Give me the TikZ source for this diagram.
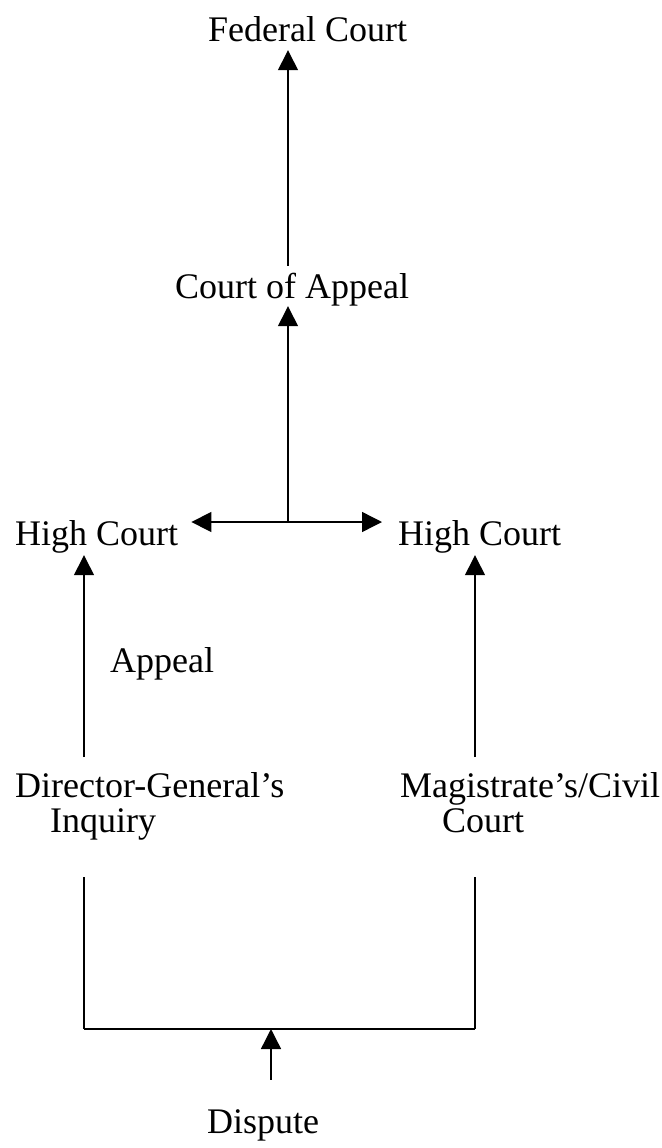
\documentclass[tikz,border=0pt]{standalone}
\usepackage{fontspec}
\setmainfont{Liberation Serif}
\usetikzlibrary{arrows.meta}
\begin{document}
\begin{tikzpicture}[x=1pt,y=-1pt,
  txt/.style={inner sep=0pt,font=\fontsize{36}{35}\selectfont},
  lbl/.style={txt,anchor=base west,text height=26pt,text depth=8pt},
  twoline/.style={txt,anchor=north west,align=left},
  conn/.style={line width=1.4pt,draw=black},
  arr/.style={conn,-{Triangle[length=20pt,width=20pt]}},
  darr/.style={conn,{Triangle[length=20pt,width=20pt]}-{Triangle[length=20pt,width=20pt]}}]
\useasboundingbox (0,0) rectangle (661,1148);
% nodes
\node[lbl] (fed)   at (208,42)   {Federal Court};
\node[lbl] (coa)   at (175,298)  {Court of Appeal};
\node[lbl] (hcl)   at (15,545)   {High Court};
\node[lbl] (hcr)   at (398,545)  {High Court};
\node[lbl] (appeal) at (110,672) {Appeal};
\node[twoline] (dg) at (15,771)  {\rule{0pt}{26pt}Director-General's\\\hspace*{35pt}Inquiry\rule[-8pt]{0pt}{8pt}};
\node[twoline] (mc) at (400,771) {\rule{0pt}{26pt}Magistrate's/Civil\\\hspace*{42pt}Court\rule[-8pt]{0pt}{8pt}};
\node[lbl] (disp)  at (207,1133) {Dispute};
% helper coordinates
\coordinate (xl) at (84,0);
\coordinate (xr) at (475,0);
\coordinate (j)  at (288,522);
\coordinate (jb) at (271,1029);
% connectors
\draw[arr,shorten <=6pt] (coa.north -| j) -- (fed.south -| j);
\draw[arr] (j) -- (coa.south -| j);
\draw[darr,shorten <=13pt,shorten >=16pt] (hcl.east |- j) -- (hcr.west |- j);
\draw[arr,shorten <=14pt,shorten >=2pt] (dg.north -| xl) -- (hcl.south -| xl);
\draw[arr,shorten <=14pt,shorten >=2pt] (mc.north -| xr) -- (hcr.south -| xr);
\draw[conn] (xl |- jb) -- (xr |- jb);
\draw[conn] ([yshift=-37pt]dg.south -| xl) -- (xl |- jb);
\draw[conn] ([yshift=-37pt]mc.south -| xr) -- (xr |- jb);
\draw[arr,shorten <=27pt] (disp.north -| jb) -- (jb);
\end{tikzpicture}
\end{document}
